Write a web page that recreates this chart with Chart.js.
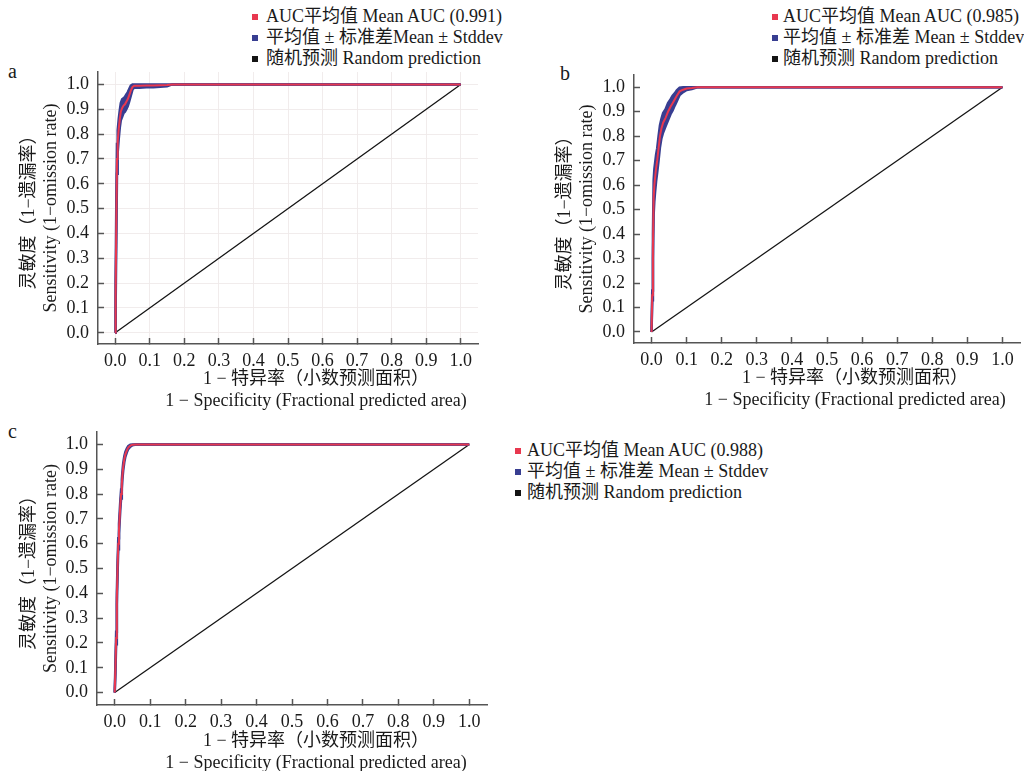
<!DOCTYPE html>
<html>
<head>
<meta charset="utf-8">
<script src="https://cdn.jsdelivr.net/npm/chart.js@4.4.1/dist/chart.umd.min.js"></script>
<style>
  html, body { margin: 0; padding: 0; background: #fff; overflow: hidden; }
  body { width: 1024px; height: 771px; position: relative;
         font-family: "Liberation Serif", "Noto Sans CJK SC", serif; color: #1a1a1a; }
  .panel { position: absolute; }
  .panel canvas { display: block; }
  .tag { position: absolute; font-size: 20px; line-height: 20px; }
  .legend { position: absolute; font-size: 18px; line-height: 21px; white-space: nowrap; }
  .legend .row { position: relative; }
  .legend .sw { position: absolute; left: 0; top: 8px; width: 6px; height: 6px; }
  .xt { position: absolute; font-size: 18px; line-height: 22px; white-space: nowrap;
        text-align: center; transform: translateX(-50%); }
</style>
</head>
<body>

<div class="tag" style="left:8px; top:61px;">a</div>
<div class="tag" style="left:560px; top:63px;">b</div>
<div class="tag" style="left:8px; top:421px;">c</div>

<div class="legend" id="legA" style="left:252px; top:6px;"></div>
<div class="legend" id="legB" style="left:772px; top:6px;"></div>
<div class="legend" id="legC" style="left:515px; top:440px;"></div>

<div class="panel" style="left:0px; top:60px;"><canvas id="chartA" width="490" height="360"></canvas></div>
<div class="panel" style="left:536px; top:60px;"><canvas id="chartB" width="488" height="360"></canvas></div>
<div class="panel" style="left:0px; top:420px;"><canvas id="chartC" width="500" height="360"></canvas></div>

<div class="xt" id="xtA" style="left:316px; top:367px;"></div>
<div class="xt" id="xtB" style="left:855px; top:366px;"></div>
<div class="xt" id="xtC" style="left:316px; top:729px;"></div>

<script>
// ---- ROC data: false-positive fraction, mean sensitivity, standard deviation ----
const fprA  = [0, 0.001, 0.003, 0.005, 0.007, 0.010, 0.013, 0.016, 0.020, 0.024, 0.028, 0.032, 0.036, 0.040, 0.045, 0.050, 0.055, 0.070, 0.090, 0.110, 0.130, 0.150, 0.165, 0.200, 0.400, 0.600, 0.800, 1.000];
const meanA = [0, 0.15, 0.45, 0.70, 0.77, 0.82, 0.86, 0.89, 0.905, 0.915, 0.92, 0.93, 0.94, 0.955, 0.975, 0.99, 0.995, 0.995, 0.996, 0.996, 0.997, 0.998, 1.0, 1.0, 1.0, 1.0, 1.0, 1.0];
const sdA   = [0, 0.06, 0.08, 0.06, 0.045, 0.04, 0.035, 0.035, 0.035, 0.03, 0.03, 0.03, 0.028, 0.025, 0.02, 0.01, 0.008, 0.008, 0.007, 0.007, 0.006, 0.005, 0, 0, 0, 0, 0, 0];

const fprB  = [0, 0.002, 0.004, 0.006, 0.008, 0.010, 0.013, 0.016, 0.020, 0.024, 0.028, 0.033, 0.040, 0.047, 0.054, 0.060, 0.066, 0.072, 0.080, 0.090, 0.100, 0.115, 0.130, 0.200, 0.400, 0.600, 0.800, 1.000];
const meanB = [0, 0.15, 0.35, 0.55, 0.60, 0.63, 0.67, 0.70, 0.75, 0.80, 0.83, 0.855, 0.875, 0.90, 0.92, 0.935, 0.95, 0.965, 0.983, 0.99, 0.995, 0.997, 1.0, 1.0, 1.0, 1.0, 1.0, 1.0];
const sdB   = [0, 0.02, 0.05, 0.07, 0.065, 0.06, 0.055, 0.05, 0.05, 0.045, 0.04, 0.04, 0.035, 0.035, 0.03, 0.03, 0.025, 0.022, 0.015, 0.01, 0.006, 0.004, 0, 0, 0, 0, 0, 0];

const fprC  = [0, 0.002, 0.004, 0.006, 0.008, 0.010, 0.012, 0.014, 0.016, 0.018, 0.020, 0.022, 0.024, 0.027, 0.030, 0.034, 0.038, 0.044, 0.050, 0.060, 0.200, 0.400, 0.600, 0.800, 1.000];
const meanC = [0, 0.10, 0.22, 0.38, 0.50, 0.60, 0.66, 0.71, 0.76, 0.80, 0.84, 0.88, 0.91, 0.94, 0.96, 0.975, 0.987, 0.995, 0.999, 1.0, 1.0, 1.0, 1.0, 1.0, 1.0];
const sdC   = [0, 0.02, 0.025, 0.025, 0.025, 0.022, 0.02, 0.02, 0.02, 0.018, 0.018, 0.016, 0.015, 0.012, 0.01, 0.008, 0.006, 0.004, 0.002, 0, 0, 0, 0, 0, 0];

// Random prediction reference line
const randomX = [0, 1];
const randomY = [0, 1];

// Axis ticks
const tickValues = [0, 0.1, 0.2, 0.3, 0.4, 0.5, 0.6, 0.7, 0.8, 0.9, 1.0];
const tickLabels = ['0.0', '0.1', '0.2', '0.3', '0.4', '0.5', '0.6', '0.7', '0.8', '0.9', '1.0'];

// Series names
const meanLabelA = 'AUC平均值 Mean AUC (0.991)';
const meanLabelB = 'AUC平均值 Mean AUC (0.985)';
const meanLabelC = 'AUC平均值 Mean AUC (0.988)';
const sdLabelA   = '平均值 ± 标准差Mean ± Stddev';
const sdLabelBC  = '平均值 ± 标准差 Mean ± Stddev';
const randomLabel = '随机预测 Random prediction';

// Axis titles
const xTitle = ['1 − 特异率（小数预测面积）', '1 − Specificity (Fractional predicted area)'];
const yTitle = ['灵敏度（1−遗漏率）', 'Sensitivity (1−omission rate)'];

// ---- styling ----
const FONT = '"Liberation Serif", "Noto Sans CJK SC", serif';
const RED = '#e8384f';
const BLUE = 'rgb(56, 62, 145)';
const BLACK = '#141414';
const AXIS = '#555555';

function pts(xs, ys) { return xs.map((x, i) => ({ x: x, y: ys[i] })); }

function buildLegend(id, labels) {
  const colors = [RED, BLUE, BLACK];
  const pads = { legA: 14, legB: 11, legC: 12 };
  const el = document.getElementById(id);
  labels.forEach((lab, i) => {
    const row = document.createElement('div');
    row.className = 'row';
    row.style.paddingLeft = pads[id] + 'px';
    const sw = document.createElement('span');
    sw.className = 'sw';
    sw.style.background = colors[i];
    row.appendChild(sw);
    row.appendChild(document.createTextNode(lab));
    el.appendChild(row);
  });
}

function buildXTitle(id) {
  const el = document.getElementById(id);
  xTitle.forEach((t) => {
    const line = document.createElement('div');
    line.textContent = t;
    el.appendChild(line);
  });
}

function makePanel(canvasId, xs, mean, sd, labels, cfg) {
  const upper = mean.map((m, i) => Math.min(1, m + sd[i]));
  const lower = mean.map((m, i) => Math.max(0, m - sd[i]));
  const fixTicks = (scale) => { scale.ticks = tickValues.map(v => ({ value: v })); };
  const tickFont = { family: FONT, size: 18 };
  const titleFont = { family: FONT, size: 18, lineHeight: 22 / 18 };
  const label = (v) => tickLabels[tickValues.indexOf(Math.round(v * 10) / 10)];

  return new Chart(document.getElementById(canvasId), {
    type: 'line',
    data: {
      datasets: [
        { label: labels[0], data: pts(xs, mean), borderColor: RED, borderWidth: 2,
          pointRadius: 0, fill: false, order: 0 },
        { label: labels[1], data: pts(xs, upper), borderColor: BLUE, borderWidth: 2.5,
          backgroundColor: BLUE, pointRadius: 0, fill: '+1', order: 1 },
        { label: labels[1], data: pts(xs, lower), borderColor: BLUE, borderWidth: 2.5,
          pointRadius: 0, fill: false, order: 2 },
        { label: labels[2], data: pts(randomX, randomY), borderColor: BLACK, borderWidth: 1.3,
          pointRadius: 0, fill: false, order: 3 }
      ]
    },
    options: {
      responsive: false,
      animation: false,
      devicePixelRatio: 1,
      layout: { padding: cfg.padding },
      elements: { line: { tension: 0 } },
      plugins: { legend: { display: false }, tooltip: { enabled: false } },
      scales: {
        x: {
          type: 'linear', min: -0.05, max: 1.05,
          afterBuildTicks: fixTicks,
          afterFit: (s) => { s.height = 70; s.paddingLeft = 0; s.paddingRight = 0; },
          border: { display: true, color: AXIS, width: 1.5 },
          grid: { color: cfg.gridColor, lineWidth: 1, drawTicks: true, tickLength: -6,
                  tickColor: AXIS, tickWidth: 1.5 },
          ticks: { font: tickFont, color: '#1a1a1a', padding: 12, maxRotation: 0, autoSkip: false,
                   callback: label },
          title: { display: false }
        },
        y: {
          type: 'linear', min: cfg.yMin, max: 1.05,
          afterBuildTicks: fixTicks,
          afterFit: (s) => { s.width = cfg.yWidth; s.paddingTop = 0; s.paddingBottom = 0; },
          border: { display: true, color: AXIS, width: 1.5 },
          grid: { color: cfg.gridColor, lineWidth: 1, drawTicks: true, tickLength: -6,
                  tickColor: AXIS, tickWidth: 1.5 },
          ticks: { font: tickFont, color: '#1a1a1a', padding: 15, autoSkip: false,
                   callback: label },
          title: { display: true, text: yTitle, font: titleFont, color: '#1a1a1a',
                   padding: { top: 18, bottom: 0 } }
        }
      }
    }
  });
}

makePanel('chartA', fprA, meanA, sdA, [meanLabelA, sdLabelA, randomLabel],
  { padding: { left: 0, right: 12, top: 12, bottom: 6 }, yWidth: 98, yMin: -0.045, gridColor: 'rgba(240,234,234,0.9)' });
makePanel('chartB', fprB, meanB, sdB, [meanLabelB, sdLabelBC, randomLabel],
  { padding: { left: 0, right: 4, top: 15, bottom: 7 }, yWidth: 98, yMin: -0.045, gridColor: 'rgba(0,0,0,0)' });
makePanel('chartC', fprC, meanC, sdC, [meanLabelC, sdLabelBC, randomLabel],
  { padding: { left: 0, right: 13, top: 12, bottom: 5 }, yWidth: 97, yMin: -0.05, gridColor: 'rgba(0,0,0,0)' });

buildLegend('legA', [meanLabelA, sdLabelA, randomLabel]);
buildLegend('legB', [meanLabelB, sdLabelBC, randomLabel]);
buildLegend('legC', [meanLabelC, sdLabelBC, randomLabel]);
buildXTitle('xtA');
buildXTitle('xtB');
buildXTitle('xtC');
</script>
</body>
</html>
